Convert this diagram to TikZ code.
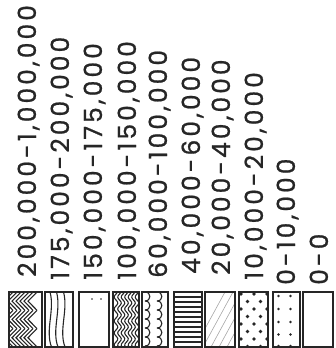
\documentclass[tikz,border=0pt]{standalone}
\usepackage{fontspec}
\newfontfamily\labfont[LetterSpace=12,FakeBold=0.8]{Poppins}
\begin{document}
\begin{tikzpicture}[x=1pt,y=-1pt,
  lbl/.style={rotate=90,anchor=base west,inner sep=0pt,font=\labfont\fontsize{25}{25}\selectfont,text=black!85},
  boxframe/.style={draw=black!85,line width=2pt},
  hatch/.style={draw=black!85,line width=1.1pt},
  dotfill/.style={fill=black!85}]
\useasboundingbox (0,0) rectangle (336,348);
% labels
\node[lbl] (t1) at (36,277) {200,000-1,000,000};
\node[lbl] (t2) at (69,280) {175,000-200,000};
\node[lbl] (t3) at (102,280) {150,000-175,000};
\node[lbl] (t4) at (136,280) {100,000-150,000};
\node[lbl] (t5) at (167,278) {60,000-100,000};
\node[lbl] (t6) at (200,274) {40,000-60,000};
\node[lbl] (t7) at (230,275) {20,000-40,000};
\node[lbl] (t8) at (263,280) {10,000-20,000};
\node[lbl] (t9) at (295,285) {0-10,000};
\node[lbl] (t10) at (328,285) {0-0};
% box 1: herringbone
\begin{scope}
\clip (9,292) rectangle (41.5,347);
\foreach \b in {292,310.3,328.6}{
  \foreach \k in {-2,...,8}{
    \draw[hatch] ({5+4*\k},\b) -- ({-4+4*\k},{\b+9.15}) -- ({5+4*\k},{\b+18.3});
  }
}
\end{scope}
\draw[boxframe] (9,292) rectangle (41.5,347);
% box 2: wood grain
\foreach \xx in {50,56.5,63.5}{
  \draw[hatch] (\xx,292) .. controls ({\xx+5},310) and ({\xx-5},330) .. ({\xx+1.5},347);
}
\draw[boxframe] (44.5,292) rectangle (72.5,347);
% box 3: empty with specks
\fill[dotfill] (92,299) circle (0.9);
\fill[dotfill] (101,299) circle (0.9);
\draw[boxframe] (79,292) rectangle (108.5,347);
% box 4: dense waves
\begin{scope}
\clip (113,292) rectangle (139,347);
\foreach \k in {0,...,6}{
  \draw[hatch] plot[domain=292:347,smooth,samples=40] ({116+3.5*\k+1.8*sin(30*\x)},\x);
}
\end{scope}
\draw[boxframe] (113,292) rectangle (139,347);
% box 5: scallops
\begin{scope}
\clip (142,292) rectangle (167.5,347);
\foreach \xx in {145,157}{
  \foreach \yy in {292,301,...,346}{
    \draw[hatch] (\xx,\yy) .. controls ({\xx+6.5},\yy) and ({\xx+6.5},{\yy+9}) .. (\xx,{\yy+9});
  }
}
\end{scope}
\draw[boxframe] (142,292) rectangle (167.5,347);
% box 6: horizontal lines
\foreach \yy in {297,302,...,343}{
  \draw[hatch] (173.5,\yy) -- (201.5,\yy);
}
\draw[boxframe] (173.5,292) rectangle (201.5,347);
% box 7: light diagonal hatch
\begin{scope}
\clip (205,292) rectangle (235,347);
\foreach \k in {0,...,9}{
  \draw[black!35,line width=0.6pt] ({195+8*\k},347) -- ({225+8*\k},292);
}
\end{scope}
\draw[boxframe] (205,292) rectangle (235,347);
% box 8: dense dots
\begin{scope}
\clip (238.5,292) rectangle (267.5,347);
\foreach \yy [count=\i] in {294,301.5,309,316.5,324,331.5,339,346.5}{
  \pgfmathsetmacro{\off}{mod(\i,2)==1 ? 0 : 6.5}
  \foreach \xx in {241,254,267}{
    \fill[dotfill] ({\xx+\off},\yy) circle (1.9);
  }
}
\end{scope}
\draw[boxframe] (238.5,292) rectangle (267.5,347);
% box 9: sparse dots
\foreach \yy in {296,309,322,334.5,346}{
  \fill[dotfill] (278.5,\yy) circle (1.4);
  \fill[dotfill] (290.5,\yy) circle (1.4);
}
\draw[boxframe] (272.5,292) rectangle (299.5,347);
% box 10: empty
\draw[boxframe] (303,292) rectangle (333,347);
\end{tikzpicture}
\end{document}
